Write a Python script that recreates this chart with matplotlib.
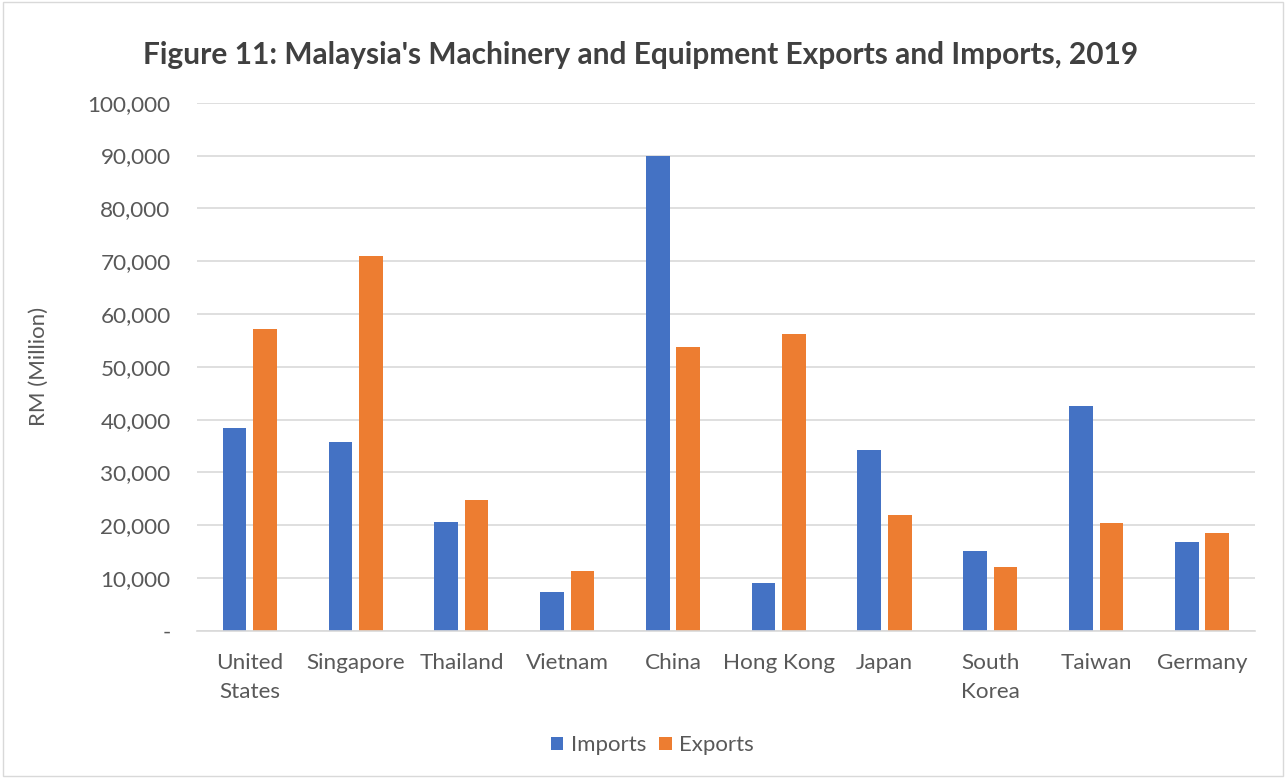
import matplotlib
matplotlib.use('Agg')
import matplotlib.pyplot as plt
import numpy as np
from matplotlib.ticker import FuncFormatter
from matplotlib.patches import Rectangle

### Datos (RM millones) ###
paises = ['United\nStates', 'Singapore', 'Thailand', 'Vietnam', 'China',
          'Hong Kong', 'Japan', 'South\nKorea', 'Taiwan', 'Germany']
imports = [38400, 35700, 20550, 7440, 90000, 9060, 34210, 15150, 42530, 16900]
exports = [57070, 70930, 24750, 11290, 53750, 56190, 21900, 12030, 20420, 18460]
yticks = np.arange(0, 100001, 10000)

azul = '#4472C4'
naranja = '#ED7D31'
gris = '#595959'

plt.rcParams['font.family'] = ['Lato', 'DejaVu Sans']

fig = plt.figure(figsize=(12.87, 7.78), dpi=100)
ax = fig.add_axes([0.153, 0.189, 0.822, 0.679])

x = np.arange(len(paises))
ancho = 0.224
sep = 0.144
ax.bar(x - sep, imports, ancho, color=azul, label='Imports')
ax.bar(x + sep, exports, ancho, color=naranja, label='Exports')

ax.set_xlim(-0.5, len(paises) - 0.5)
ax.set_ylim(0, 100000)
ax.set_yticks(yticks)
ax.yaxis.set_major_formatter(FuncFormatter(lambda v, p: '-' if v == 0 else f'{v:,.0f}'))
ax.set_xticks(x)
ax.set_xticklabels(paises, linespacing=1.55)
ax.tick_params(axis='both', length=0, labelsize=16.2, colors=gris)
ax.tick_params(axis='y', pad=19)
ax.tick_params(axis='x', pad=16)

ax.grid(axis='y', color='#D9D9D9', linewidth=1.2)
ax.set_axisbelow(True)
for s in ['top', 'right', 'left']:
    ax.spines[s].set_visible(False)
ax.spines['bottom'].set_color('#D9D9D9')
ax.spines['bottom'].set_linewidth(1.2)

ax.set_ylabel('RM (Million)', fontsize=16, color=gris, labelpad=28)

fig.text(0.498, 0.929, "Figure 11: Malaysia's Machinery and Equipment Exports and Imports, 2019",
         ha='center', va='center', fontsize=21.5, fontweight='bold', color='#404040')

fig.legend(loc='center', bbox_to_anchor=(0.507, 0.042), ncol=2, frameon=False,
           fontsize=16, labelcolor=gris, handlelength=0.55, handleheight=0.55,
           handletextpad=0.35, columnspacing=0.6)

fig.patches.append(Rectangle((0.002, 0.003), 0.995, 0.994, transform=fig.transFigure,
                             fill=False, edgecolor='#D9D9D9', linewidth=1))

fig.savefig('out.png', dpi=100)
